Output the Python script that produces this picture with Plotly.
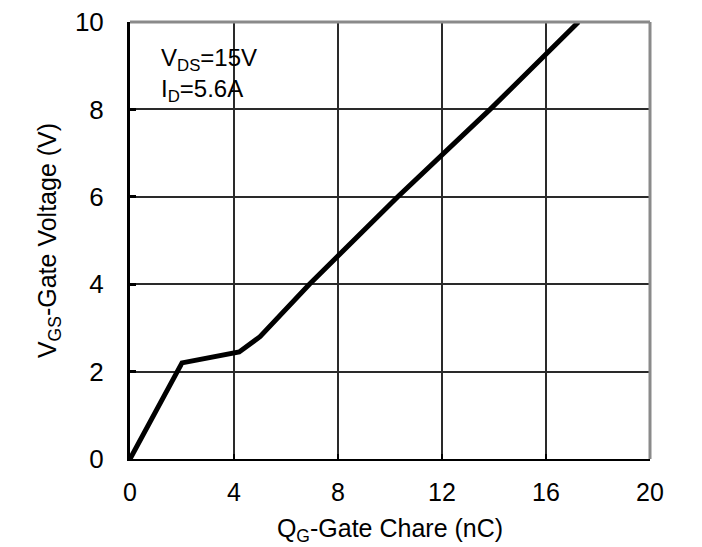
import plotly.graph_objects as go

# Gate charge curve
qg_nc = [0, 2.0, 4.2, 5.0, 6.9, 10.3, 13.85, 17.25]
vgs_v = [0, 2.2, 2.45, 2.8, 4.0, 6.0, 8.0, 10.0]

x_ticks = [0, 4, 8, 12, 16, 20]
y_ticks = [0, 2, 4, 6, 8, 10]

FONT = "Liberation Sans, Arial, sans-serif"

fig = go.Figure()
fig.add_trace(go.Scatter(x=qg_nc, y=vgs_v, mode="lines",
                         line=dict(color="black", width=5), showlegend=False,
                         hoverinfo="skip"))

fig.update_layout(
    width=694, height=539,
    margin=dict(l=122, r=52, t=14, b=88),
    paper_bgcolor="white", plot_bgcolor="white",
    font=dict(family=FONT, color="black", size=25),
    xaxis=dict(range=[0, 20], tickvals=x_ticks, showgrid=True,
               gridcolor="#2a2a2a", gridwidth=1.5, zeroline=False,
               showline=True, linecolor="black", linewidth=2,
               ticks="inside", ticklen=5, tickwidth=2, tickcolor="black",
               ticklabelstandoff=10, ticklabeloverflow="allow",
               automargin=False,
               tickfont=dict(size=25),
               title=dict(text="Q<sub>G</sub>-Gate Chare (nC)", standoff=14,
                          font=dict(size=25))),
    yaxis=dict(range=[0, 10], tickvals=y_ticks, showgrid=True,
               gridcolor="#2a2a2a", gridwidth=1.5, zeroline=False,
               showline=True, linecolor="black", linewidth=3,
               ticks="inside", ticklen=6, tickwidth=3, tickcolor="black",
               ticklabelstandoff=18, ticklabeloverflow="allow",
               automargin=False,
               tickfont=dict(size=26),
               title=dict(text="V<sub>GS</sub>-Gate Voltage (V)", standoff=12,
                          font=dict(size=25))),
)

# gray top and right frame lines
fig.add_shape(type="line", xref="paper", yref="paper", x0=0, x1=1, y0=1, y1=1,
              line=dict(color="#8a8a8a", width=3), layer="above")
fig.add_shape(type="line", xref="paper", yref="paper", x0=1, x1=1, y0=0, y1=1,
              line=dict(color="#8a8a8a", width=3), layer="above")

fig.add_annotation(xref="paper", yref="paper", x=0.056, y=0.955,
                   xanchor="left", yanchor="top", showarrow=False, align="left",
                   text="V<sub>DS</sub>=15V<br>I<sub>D</sub>=5.6A",
                   font=dict(size=24, family=FONT, color="black"))

fig.write_html("out.html")
